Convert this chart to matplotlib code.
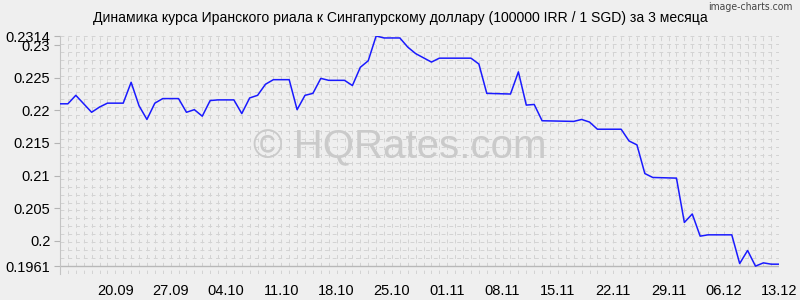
import numpy as np
import pandas as pd
import matplotlib
matplotlib.use('Agg')
import matplotlib.pyplot as plt

# data (only the visible vertices of the line)
dates = ["13.09", "14.09", "15.09", "17.09", "18.09", "19.09", "21.09", "22.09",
         "23.09", "24.09", "25.09", "26.09", "28.09", "29.09", "30.09", "01.10",
         "02.10", "03.10", "05.10", "06.10", "07.10", "08.10", "09.10", "10.10",
         "12.10", "13.10", "14.10", "15.10", "16.10", "17.10", "19.10", "20.10",
         "21.10", "22.10", "23.10", "24.10", "26.10", "27.10", "28.10", "30.10",
         "31.10", "04.11", "05.11", "06.11", "09.11", "10.11", "11.11", "12.11",
         "13.11", "17.11", "18.11", "19.11", "20.11", "23.11", "24.11", "25.11",
         "26.11", "27.11", "30.11", "01.12", "02.12", "03.12", "04.12", "07.12",
         "08.12", "09.12", "10.12", "11.12", "12.12", "13.12"]
rates = [0.2210, 0.2210, 0.2223, 0.2197, 0.2205, 0.2211, 0.2211, 0.2243,
         0.2207, 0.2186, 0.2211, 0.2218, 0.2218, 0.2197, 0.2201, 0.2191,
         0.2215, 0.2216, 0.2216, 0.2195, 0.2219, 0.2223, 0.2240, 0.2247,
         0.2247, 0.2201, 0.2223, 0.2226, 0.2249, 0.2246, 0.2246, 0.2238,
         0.2266, 0.2276, 0.2314, 0.2311, 0.2311, 0.2297, 0.2287, 0.2274,
         0.2280, 0.2280, 0.2271, 0.2226, 0.2225, 0.2259, 0.2208, 0.2209,
         0.2184, 0.2183, 0.2186, 0.2182, 0.2171, 0.2171, 0.2153, 0.2147,
         0.2103, 0.2097, 0.2096, 0.2028, 0.2041, 0.2007, 0.2009, 0.2009,
         0.1965, 0.1985, 0.1961, 0.1966, 0.1964, 0.1964]
y_ticks = [0.1961, 0.2, 0.205, 0.21, 0.215, 0.22, 0.225, 0.23, 0.2314]
y_labels = ["0.1961", "0.2", "0.205", "0.21", "0.215", "0.22", "0.225", "0.23", "0.2314"]
x_labels = ["20.09", "27.09", "04.10", "11.10", "18.10", "25.10", "01.11",
            "08.11", "15.11", "22.11", "29.11", "06.12", "13.12"]

title = "Динамика курса Иранского риала к Сингапурскому доллару (100000 IRR / 1 SGD) за 3 месяца"

x = pd.to_datetime([d + ".2023" for d in dates], format="%d.%m.%Y")
xt = pd.to_datetime([d + ".2023" for d in x_labels], format="%d.%m.%Y")

plt.rcParams['font.family'] = ['Liberation Sans', 'DejaVu Sans']
bg = '#efefef'

fig = plt.figure(figsize=(8, 3), dpi=100, facecolor=bg)
ax = fig.add_axes([0.075, 0.087, 0.899, 0.793], facecolor=bg)

y_top = max(rates)
y_bot = y_top - 238 / 6522
ax.set_ylim(y_bot, y_top)
ax.set_xlim(x[0], x[-1])

# dashed background grid: one column per day, rows every ~8 px
for d in pd.date_range(x[0], x[-1], freq='D'):
    ax.axvline(d, color='#d3d3d3', lw=0.7, ls=(0, (4, 4)), zorder=0)
for g in np.arange(y_top, y_bot, -(y_top - y_bot) / 30):
    ax.axhline(g, color='#d3d3d3', lw=0.7, ls=(0, (4, 4)), zorder=0)
ax.axhline(min(rates), color='#b8b8b8', lw=1.0, zorder=1)

ax.plot(x, rates, color='#1a1aff', lw=1.1, zorder=3)

ax.set_yticks(y_ticks)
ax.set_yticklabels(y_labels, fontsize=10.5)
ax.set_xticks(xt)
ax.set_xticklabels(x_labels, fontsize=10.5)
ax.tick_params(axis='y', length=4, color='#b4b4b4', pad=3)
ax.tick_params(axis='x', length=0, pad=7)

for s in ['top', 'right', 'bottom']:
    ax.spines[s].set_visible(False)
ax.spines['left'].set_color('#c4c4c4')

fig.text(0.5, 0.94, title, ha='center', va='center', fontsize=10.1)
fig.text(0.991, 0.977, "image-charts.com", ha='right', va='center', fontsize=7.5,
         color='#444444', family='DejaVu Sans', fontstretch='condensed')
fig.text(0.5, 0.51, "© HQRates.com", ha='center', va='center', fontsize=29,
         color='#cacaca', zorder=0)

fig.savefig('out.png', dpi=100, facecolor=bg)
